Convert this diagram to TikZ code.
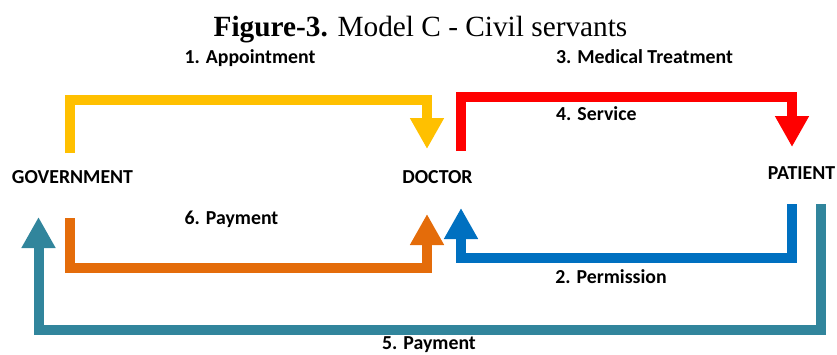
\documentclass[tikz,border=0pt]{standalone}
\usepackage{fontspec}
\setmainfont{Liberation Serif}
\newfontfamily\lblfont{Carlito}
\usetikzlibrary{arrows.meta}

\definecolor{cYellow}{HTML}{FFC000}
\definecolor{cRed}{HTML}{FF0000}
\definecolor{cOrange}{HTML}{E46C0A}
\definecolor{cBlue}{HTML}{0070C0}
\definecolor{cTeal}{HTML}{31859C}

\begin{document}
\begin{tikzpicture}[x=1pt,y=-1pt,
  lbl/.style={font=\lblfont\bfseries\fontsize{19.8}{22}\selectfont, inner sep=0pt, anchor=base},
  flow/.style={line width=10pt, line cap=butt, line join=miter,
    -{Triangle[length=31pt 0, width=32pt 0]}},
]
\useasboundingbox (0,0) rectangle (837,354);

% title
\node[inner sep=0pt, anchor=base, font=\fontsize{29.3}{32}\selectfont] (title) at (420.5,36)
  {\textbf{Figure-3.} Model C - Civil servants};

% actors
\node[lbl] (gov) at (72.5,183) {GOVERNMENT};
\node[lbl] (doc) at (437.5,183) {DOCTOR};
\node[lbl] (pat) at (801.5,179) {PATIENT};

% flow labels
\node[lbl] (l1) at (250,63) {1. Appointment};
\node[lbl] (l3) at (644.5,63) {3. Medical Treatment};
\node[lbl, anchor=base west] (l4) at (556,120) {4. Service};
\node[lbl] (l6) at (231.5,224) {6. Payment};
\node[lbl] (l2) at (611,283) {2. Permission};
\node[lbl] (l5) at (429,349) {5. Payment};

% end points of the flows
\coordinate (a1s) at (69.5,153);  \coordinate (a1e) at (427,149);
\coordinate (a3s) at (460.5,151); \coordinate (a3e) at (792,147);
\coordinate (a6s) at (69.5,218);  \coordinate (a6e) at (427,214);
\coordinate (a2s) at (792,204);   \coordinate (a2e) at (461,208);
\coordinate (a5s) at (820.5,204); \coordinate (a5e) at (38.5,217);

% 1. appointment: government -> doctor
\draw[flow, cYellow] (a1s) -- (69.5,99.5) -| (a1e);
% 3./4. treatment and service: doctor -> patient
\draw[flow, cRed] (a3s) -- (460.5,97) -| (a3e);
% 6. payment: government -> doctor
\draw[flow, cOrange] (a6s) -- (69.5,268) -| (a6e);
% 2. permission: patient -> doctor
\draw[flow, cBlue] (a2s) -- (792,258) -| (a2e);
% 5. payment: patient -> government
\draw[flow, cTeal] (a5s) -- (820.5,330) -| (a5e);
\end{tikzpicture}
\end{document}
